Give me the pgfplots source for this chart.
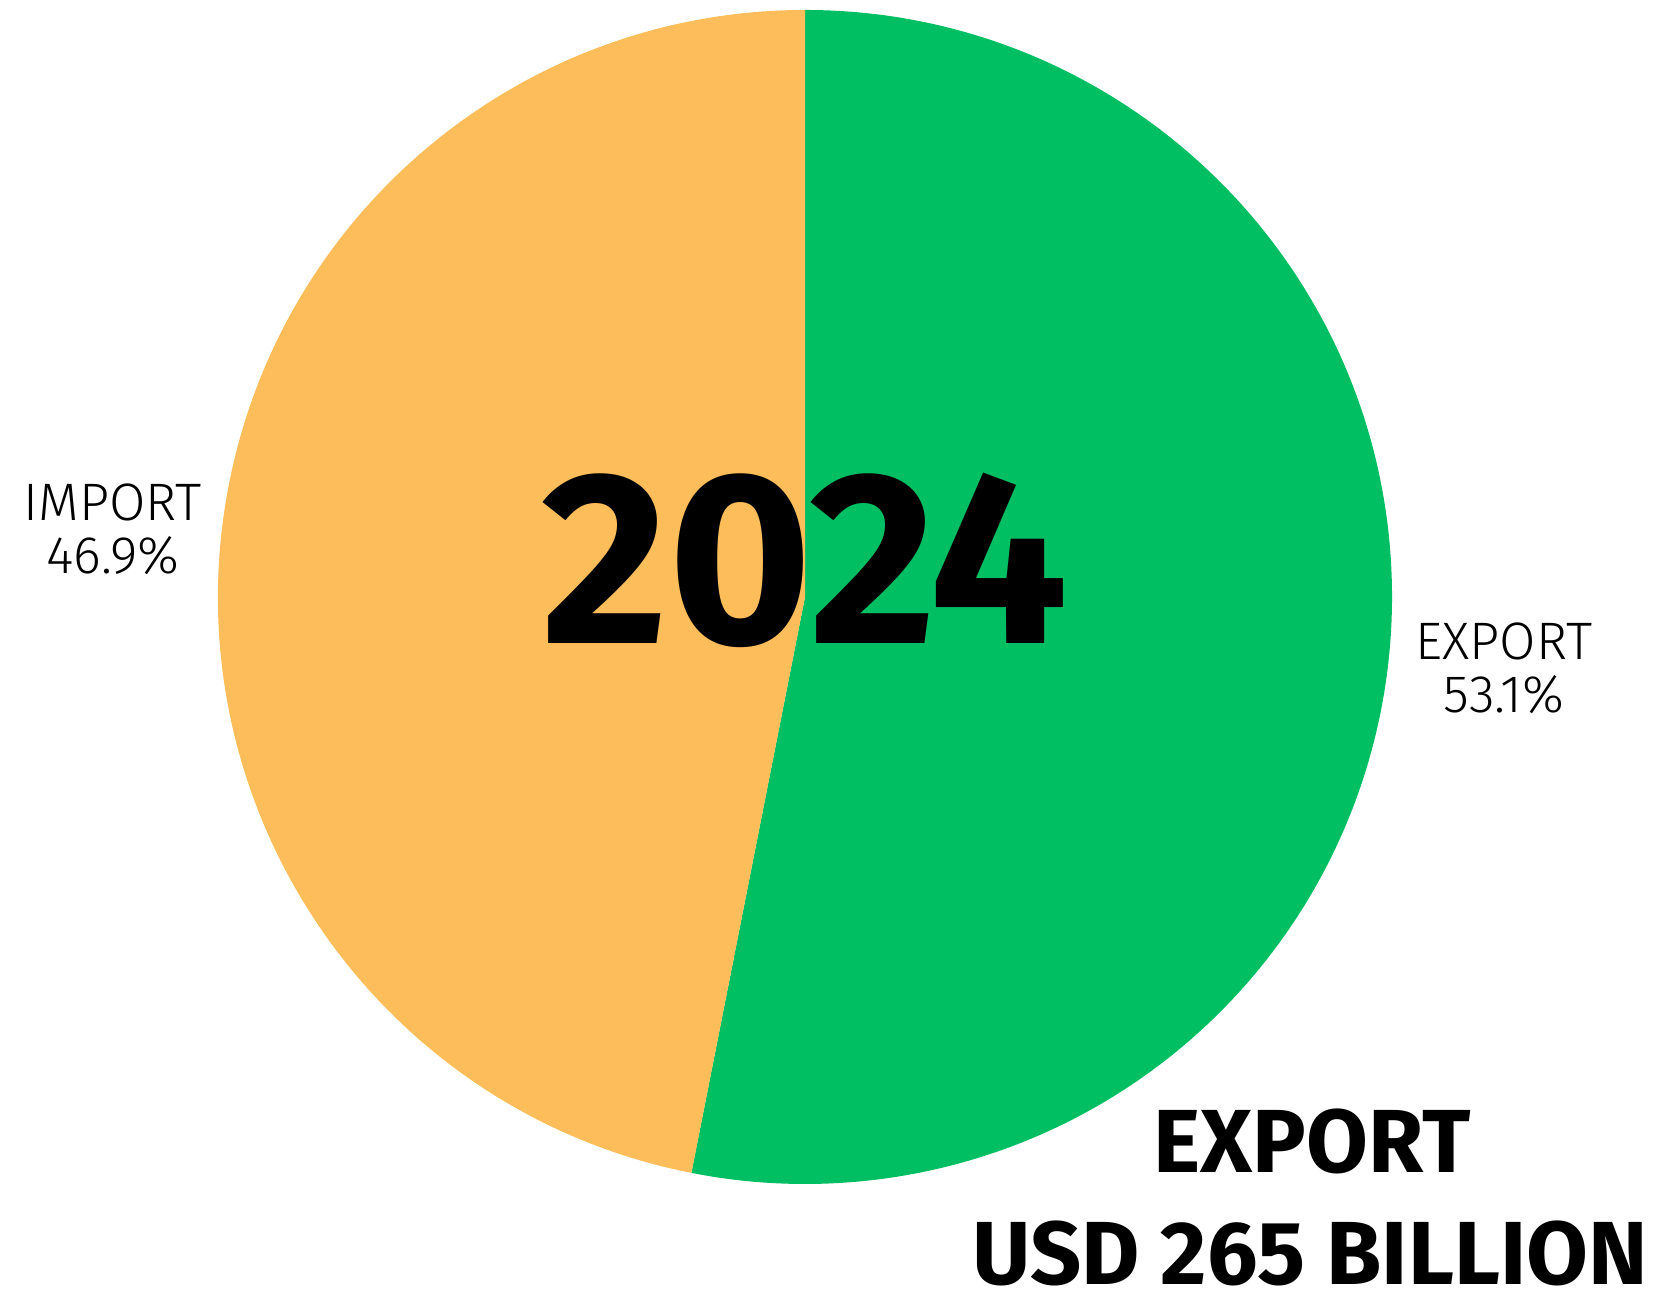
\documentclass[border=0pt]{standalone}
\usepackage{pgfplots}
\pgfplotsset{compat=1.18}
\usepackage{pgfplotstable}
\usepackage{fontspec}
\setmainfont{Fira Sans}
\newfontfamily\lightfont{Fira Sans Light}
\definecolor{impcol}{HTML}{FDBD5A}
\definecolor{expcol}{HTML}{00BF63}

% share of trade, percent
\pgfplotstableread{
name   share
EXPORT 53.1
IMPORT 46.9
}\sharetable

\begin{document}
\begin{tikzpicture}
\useasboundingbox (0,0) rectangle (16.61,12.94);
\pgfplotstablegetelem{0}{share}\of\sharetable \let\expshare\pgfplotsretval
\pgfplotstablegetelem{1}{share}\of\sharetable \let\impshare\pgfplotsretval
\pgfmathsetmacro{\cut}{90-3.6*\expshare}
\pgfmathsetmacro{\cutb}{\cut+360}
\def\R{5.87}
\begin{axis}[
    x=1cm, y=1cm,
    xmin=0, xmax=16.61, ymin=0, ymax=12.94,
    anchor=origin, at={(0,0)},
    hide axis, clip=false, scale only axis,
]
  \fill[expcol] (axis cs:8.05,6.97) -- ++(90:\R) arc[start angle=90, end angle=\cut, radius=\R] -- cycle;
  \fill[impcol] (axis cs:8.05,6.97) -- ++(\cutb:\R) arc[start angle=\cutb, end angle=90, radius=\R] -- cycle;

  \node[anchor=base, inner sep=0, font=\fontsize{70}{70}\selectfont\bfseries] at (axis cs:8.05,6.50) {2024};

  \node[anchor=base, inner sep=0, font=\lightfont\fontsize{15}{15}\selectfont] at (axis cs:1.13,7.73) {IMPORT};
  \node[anchor=base, inner sep=0, font=\lightfont\fontsize{15}{15}\selectfont] at (axis cs:1.13,7.20) {\impshare\%};
  \node[anchor=base, inner sep=0, font=\lightfont\fontsize{15}{15}\selectfont] at (axis cs:15.04,6.34) {EXPORT};
  \node[anchor=base, inner sep=0, font=\lightfont\fontsize{15}{15}\selectfont] at (axis cs:15.04,5.81) {\expshare\%};

  \node[anchor=base, inner sep=0, font=\fontsize{25.5}{25.5}\selectfont\bfseries] at (axis cs:13.12,1.21) {EXPORT};
  \node[anchor=base, inner sep=0, font=\fontsize{25.5}{25.5}\selectfont\bfseries] at (axis cs:13.10,0.10) {USD 265 BILLION};
\end{axis}
\end{tikzpicture}
\end{document}
